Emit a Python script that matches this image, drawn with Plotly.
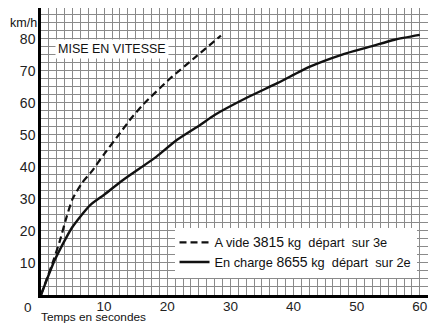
import plotly.graph_objects as go

# A vide 3815 kg, départ sur 3e (dashed)
vide_t = [0, 2, 3, 4, 5, 6.5, 8, 10, 12.5, 14.1, 16.2, 20.4, 24.6, 28.5]
vide_v = [0, 11, 17, 24, 30, 35, 38.5, 44, 50.5, 54.7, 59.5, 67.5, 74.5, 81]

# En charge 8655 kg, départ sur 2e (solid)
charge_t = [0, 2.2, 4.9, 7.75, 10, 13, 18.3, 21.5, 25.2, 27.5, 32.5, 37.5, 42.6, 47.6, 52.3, 56, 60]
charge_v = [0, 11, 21, 28, 31.3, 35.9, 43.2, 48.4, 53.1, 56.2, 61.5, 66.2, 71.3, 75, 77.6, 79.7, 81.2]

x_ticks = [10, 20, 30, 40, 50, 60]
y_ticks = [10, 20, 30, 40, 50, 60, 70, 80]

FONT = "Liberation Sans"

fig = go.Figure()
fig.add_trace(go.Scatter(
    x=vide_t, y=vide_v, mode="lines",
    name="A vide <span style='font-size:14px'>3815</span> kg  départ  sur 3e",
    line=dict(color="#111", width=2.2, dash="7px,4px", shape="spline", smoothing=0.6),
))
fig.add_trace(go.Scatter(
    x=charge_t, y=charge_v, mode="lines",
    name="En charge <span style='font-size:14px'>8655</span> kg  départ  sur 2e",
    line=dict(color="#111", width=2.4, shape="spline", smoothing=0.6),
))

fig.update_layout(
    width=430, height=325,
    margin=dict(l=41, r=2, t=8, b=30),
    paper_bgcolor="white", plot_bgcolor="white",
    font=dict(family=FONT, color="#111"),
    showlegend=True,
    legend=dict(
        x=0.345, y=0.235, xanchor="left", yanchor="top",
        bgcolor="white", font=dict(size=12.8, family=FONT, color="#111"),
        itemwidth=30, tracegroupgap=0,
    ),
    xaxis=dict(
        range=[0, 61.3], tickmode="array", tickvals=x_ticks,
        tickfont=dict(size=13.5, family=FONT, color="#222"),
        ticklabelstandoff=-3,
        showgrid=False, zeroline=False,
        showline=True, linecolor="black", linewidth=2.5,
        ticks="", layer="below traces",
        minor=dict(tickmode="linear", tick0=0, dtick=1.25, showgrid=True,
                   gridcolor="#8a8a8a", gridwidth=1),
    ),
    yaxis=dict(
        range=[0, 89.6], tickmode="array", tickvals=y_ticks,
        tickfont=dict(size=14, family=FONT, color="#222"),
        showgrid=False, zeroline=False,
        showline=True, linecolor="black", linewidth=2.5,
        ticks="", layer="below traces",
        minor=dict(tickmode="linear", tick0=0, dtick=2.5, showgrid=True,
                   gridcolor="#8a8a8a", gridwidth=1),
    ),
    annotations=[
        dict(text="0", xref="paper", yref="paper", x=0, y=0,
             xanchor="right", yanchor="top", xshift=-7, yshift=-3,
             showarrow=False, font=dict(size=13.5, family=FONT, color="#222")),
        dict(text="km/h", xref="paper", yref="paper", x=-0.005, y=0.948,
             xanchor="right", yanchor="middle", showarrow=False,
             font=dict(size=12.5, family=FONT, color="#111")),
        dict(text="Temps en secondes", xref="paper", yref="paper", x=-0.002, y=0,
             xanchor="left", yanchor="bottom", yshift=-30, borderpad=0,
             showarrow=False,
             font=dict(size=11.8, family=FONT, color="#111")),
        dict(text="MISE EN VITESSE", xref="paper", yref="paper", x=0.183, y=0.857,
             xanchor="center", yanchor="middle", showarrow=False,
             bgcolor="white", borderpad=2,
             font=dict(size=12.5, family=FONT, color="#111")),
    ],
)

fig.write_html(
    "out.html",
    config={"displayModeBar": False},
    post_script="document.body.style.margin='0';document.body.style.padding='0';",
)
